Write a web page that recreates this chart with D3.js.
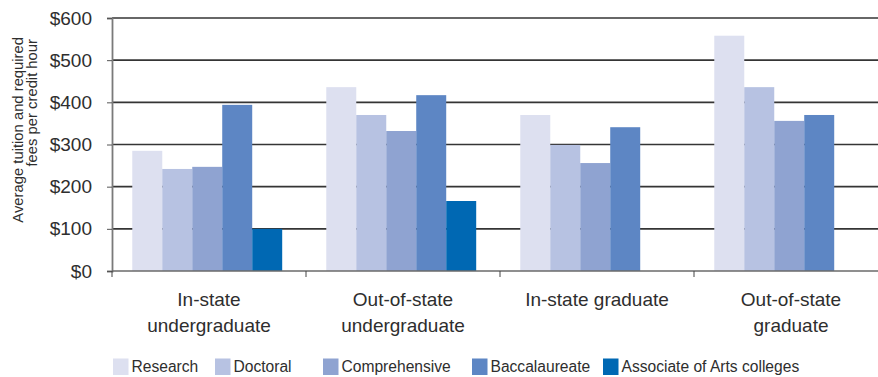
<!DOCTYPE html>
<html>
<head>
<meta charset="utf-8">
<script src="https://cdn.jsdelivr.net/npm/d3@7"></script>
<style>
  html, body { margin: 0; padding: 0; background: #fff; }
  svg { display: block; font-family: "Liberation Sans", Arial, sans-serif; }
</style>
</head>
<body>
<svg id="chart" width="878" height="377"></svg>
<script>
// Tuition categories (two-line labels) and institution types
const categories = ["In-state undergraduate", "Out-of-state undergraduate", "In-state graduate", "Out-of-state graduate"];
const categoryLines = [["In-state", "undergraduate"], ["Out-of-state", "undergraduate"], ["In-state graduate"], ["Out-of-state", "graduate"]];
const seriesNames = ["Research", "Doctoral", "Comprehensive", "Baccalaureate", "Associate of Arts colleges"];

// Average tuition and required fees per credit hour, one array per institution type
const research      = [285, 436, 370, 558];
const doctoral      = [242, 370, 299, 436];
const comprehensive = [247, 332, 256, 356];
const baccalaureate = [394, 417, 341, 370];
const associateArts = [100, 166, null, null];

const yTicks = [0, 100, 200, 300, 400, 500, 600];
const yTitle = ["Average tuition and required", "fees per credit hour"];
const colors = ["#dde0f0", "#b7c2e2", "#8fa3d1", "#5d86c4", "#0068b3"];

const seriesValues = [research, doctoral, comprehensive, baccalaureate, associateArts];
const textColor = "#2e2e2e";

const svg = d3.select("#chart");
const margin = { left: 112, top: 18, right: -10, bottom: 106 };
const width = 878 - margin.left - margin.right;
const height = 377 - margin.top - margin.bottom;

const g = svg.append("g").attr("transform", `translate(${margin.left},${margin.top})`);

const x0 = d3.scaleBand().domain(categories).range([0, width]).padding(0);
const x1 = d3.scaleBand().domain(seriesNames).range([0, x0.bandwidth()])
  .paddingInner(0).paddingOuter(0.735).align(0.46);
const y = d3.scaleLinear().domain([0, 600]).range([height, 0]);

// Horizontal gridlines
g.append("g").selectAll("line").data(yTicks.filter(d => d > 0)).join("line")
  .attr("x1", 0).attr("x2", width)
  .attr("y1", d => y(d)).attr("y2", d => y(d))
  .attr("stroke", "#353535").attr("stroke-width", 1.6);

// Bars
const groups = g.append("g").selectAll("g").data(categories).join("g")
  .attr("transform", d => `translate(${x0(d)},0)`);

groups.selectAll("rect")
  .data((c, ci) => seriesNames.map((s, si) => ({ s, si, v: seriesValues[si][ci] })).filter(d => d.v != null))
  .join("rect")
  .attr("x", d => x1(d.s))
  .attr("width", x1.bandwidth())
  .attr("y", d => y(d.v))
  .attr("height", d => height - y(d.v))
  .attr("fill", d => colors[d.si]);

// Left axis
const yAxis = g.append("g")
  .call(d3.axisLeft(y).tickValues(yTicks).tickFormat(d => "$" + d).tickSize(5).tickPadding(15));
yAxis.select(".domain").attr("stroke", "#7a7a7a").attr("stroke-width", 1.8);
yAxis.selectAll(".tick line").attr("stroke", "#555").attr("stroke-width", 1);
yAxis.selectAll(".tick text").attr("font-size", 19).attr("fill", textColor)
  .attr("font-family", "Liberation Sans, Arial, sans-serif");

// Bottom axis with ticks at category boundaries
const xAxisG = g.append("g").attr("transform", `translate(0,${height})`);
xAxisG.append("line").attr("x1", 0).attr("x2", width).attr("y1", 0).attr("y2", 0)
  .attr("stroke", "#6a6a6a").attr("stroke-width", 1.6);
xAxisG.selectAll("line.tick").data(d3.range(categories.length + 1)).join("line")
  .attr("class", "tick")
  .attr("x1", i => i * x0.bandwidth()).attr("x2", i => i * x0.bandwidth())
  .attr("y1", 0).attr("y2", 6)
  .attr("stroke", "#444").attr("stroke-width", 1);

// Category labels
const labels = xAxisG.selectAll("text.cat").data(categories).join("text")
  .attr("class", "cat")
  .attr("text-anchor", "middle")
  .attr("font-size", 19).attr("fill", textColor)
  .attr("transform", d => `translate(${x0(d) + x0.bandwidth() / 2},0)`);
labels.each(function (d, i) {
  d3.select(this).selectAll("tspan").data(categoryLines[i]).join("tspan")
    .attr("x", 0).attr("y", (t, k) => 35 + k * 26).text(t => t);
});

// Y axis title (two lines, aligned toward the top)
svg.append("g").selectAll("text").data(yTitle).join("text")
  .attr("transform", (d, i) => `translate(${i === 0 ? 22.5 : 37},${i === 0 ? 37 : 39}) rotate(-90)`)
  .attr("text-anchor", "end")
  .attr("font-size", 14.8).attr("fill", textColor)
  .text(d => d);

// Legend
const legendX = [113, 215, 323, 472, 603];
const legend = svg.append("g").attr("transform", "translate(0,358.5)");
const items = legend.selectAll("g").data(seriesNames).join("g")
  .attr("transform", (d, i) => `translate(${legendX[i]},0)`);
items.append("rect").attr("width", 15.5).attr("height", 16.5).attr("fill", (d, i) => colors[i]);
items.append("text").attr("x", 18.5).attr("y", 13.5).attr("font-size", 15.6).attr("fill", textColor).text(d => d);
</script>
</body>
</html>
